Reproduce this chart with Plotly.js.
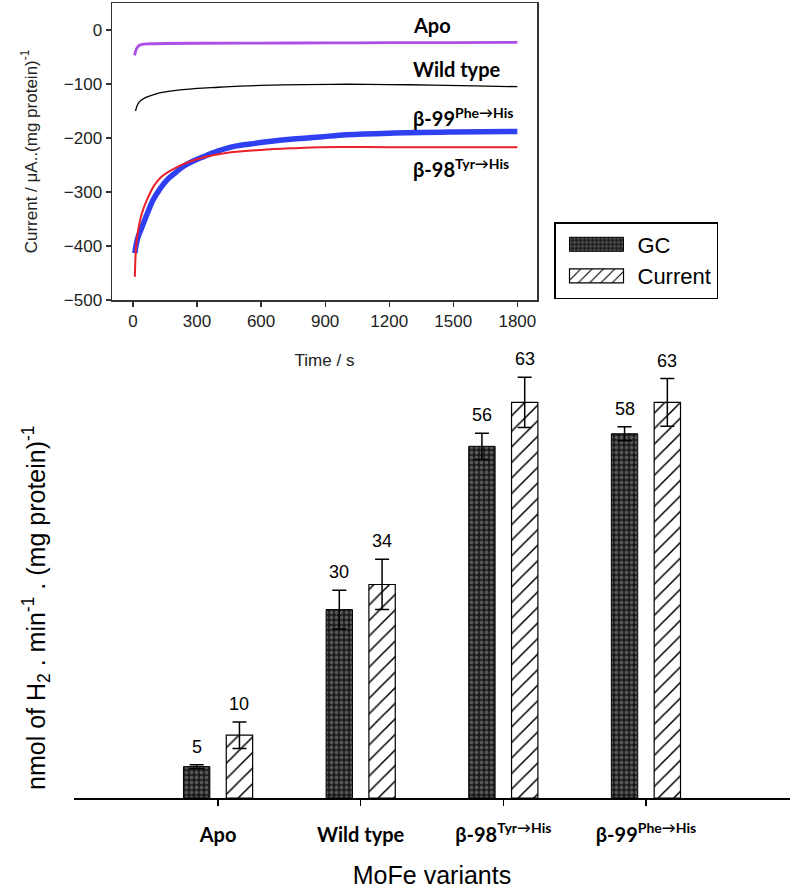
<!DOCTYPE html>
<html>
<head>
<meta charset="utf-8">
<script src="https://cdn.plot.ly/plotly-3.0.1.min.js"></script>
<style>html,body{margin:0;padding:0;background:#fff;}#chart{width:793px;height:892px;}</style>
</head>
<body>
<div id="chart"></div>
<script>
// ---------- Bar chart data ----------
const categories = ['Apo', 'Wild type', 'β-98 Tyr→His', 'β-99 Phe→His'];
const categoryLabels = ['Apo', 'Wild type', 'β-98<sup>Tyr→His</sup>', 'β-99<sup>Phe→His</sup>'];
const gcValues = [5, 30, 56, 58];
const gcErrors = [0.3, 3.1, 2.1, 1.1];
const currentValues = [10, 34, 63, 63];
const currentErrors = [2.1, 4.0, 4.0, 3.8];

// ---------- Inset (current vs time) data ----------
const apoTime = [8, 12, 18, 25, 35, 50, 80, 150, 300, 600, 900, 1200, 1500, 1800];
const apoCurrent = [-47, -40, -34, -30, -27.5, -26, -25.5, -25, -24.5, -24.2, -24, -23.5, -23.3, -23];

const wtTime = [12, 20, 30, 50, 80, 120, 160, 220, 300, 400, 500, 650, 800, 1000, 1200, 1400, 1600, 1800];
const wtCurrent = [-150, -140, -133, -127, -122, -117, -114, -111, -108, -106, -104, -102, -101, -100.5, -101, -102, -103.5, -105];

const b99Time = [9, 15, 25, 35, 47, 70, 94, 125, 159, 200, 234, 280, 328, 400, 469, 550, 628, 750, 877, 1000, 1200, 1500, 1800];
const b99Current = [-413, -398, -382, -372, -360, -337, -315, -295, -278, -264, -253, -243, -235, -224, -216, -211, -207, -202, -198, -194, -191, -189, -188];

const b98Time = [9, 11, 14, 18, 24, 35, 50, 65, 85, 103, 130, 182, 250, 328, 400, 469, 600, 750, 877, 1200, 1500, 1800];
const b98Current = [-457, -430, -405, -388, -372, -350, -330, -315, -298, -286, -273, -259, -246, -236, -230, -226, -222, -219, -217, -217, -217, -217];

const insetLabels = ['Apo', 'Wild type', 'β-99<sup>Phe→His</sup>', 'β-98<sup>Tyr→His</sup>'];
const insetLabelY = [9, -72, -161, -256];
const insetLabelX = 1300;

const ARIAL = 'Liberation Sans, Arial, sans-serif';
const BOLDF = 'Lato, Open Sans, sans-serif';

const traces = [
  {
    type: 'bar', name: 'GC', x: categories, y: gcValues,
    xaxis: 'x', yaxis: 'y',
    marker: {
      color: '#1c1c1c',
      line: {color: '#000', width: 1},
      pattern: {shape: '.', fgcolor: '#555555', bgcolor: '#1a1a1a', size: 5, solidity: 0.45, fillmode: 'replace'}
    },
    error_y: {type: 'data', array: gcErrors, visible: true, color: '#000', thickness: 1.5, width: 7}
  },
  {
    type: 'bar', name: 'Current', x: categories, y: currentValues,
    xaxis: 'x', yaxis: 'y',
    marker: {
      color: '#000',
      line: {color: '#000', width: 1.2},
      pattern: {shape: '/', fgcolor: '#000', bgcolor: '#fff', size: 11, solidity: 0.14, fillmode: 'replace'}
    },
    error_y: {type: 'data', array: currentErrors, visible: true, color: '#000', thickness: 1.5, width: 7}
  },
  {type: 'scatter', mode: 'lines', x: apoTime, y: apoCurrent, xaxis: 'x2', yaxis: 'y2', showlegend: false,
   line: {color: '#ad4ee6', width: 2.8, shape: 'spline'}},
  {type: 'scatter', mode: 'lines', x: wtTime, y: wtCurrent, xaxis: 'x2', yaxis: 'y2', showlegend: false,
   line: {color: '#000', width: 1.3, shape: 'spline'}},
  {type: 'scatter', mode: 'lines', x: b99Time, y: b99Current, xaxis: 'x2', yaxis: 'y2', showlegend: false,
   line: {color: '#2f3ff2', width: 5.5, shape: 'spline'}},
  {type: 'scatter', mode: 'lines', x: b98Time, y: b98Current, xaxis: 'x2', yaxis: 'y2', showlegend: false,
   line: {color: '#ea1f2a', width: 2, shape: 'spline'}}
];

const W = 793, H = 892;
const px = v => v / W;
const py = v => 1 - v / H;

const annotations = [];
// value labels above the error bars
categories.forEach((c, i) => {
  annotations.push({xref: 'x', yref: 'y', x: i - 0.15, y: gcValues[i] + gcErrors[i], text: String(gcValues[i]),
    showarrow: false, yanchor: 'bottom', yshift: 6, font: {family: ARIAL, size: 18, color: '#000'}});
  annotations.push({xref: 'x', yref: 'y', x: i + 0.15, y: currentValues[i] + currentErrors[i], text: String(currentValues[i]),
    showarrow: false, yanchor: 'bottom', yshift: 6, font: {family: ARIAL, size: 18, color: '#000'}});
});
// inset curve labels
insetLabels.forEach((t, i) => {
  annotations.push({xref: 'x2', yref: 'y2', x: insetLabelX, y: insetLabelY[i], text: t, showarrow: false,
    xanchor: 'left', yanchor: 'middle', font: {family: BOLDF, size: 20, color: '#000', weight: 'bold'}});
});
// main y-axis title
annotations.push({xref: 'paper', yref: 'paper', x: px(36), y: py(608), text: 'nmol of H<sub>2</sub> . min<sup>-1</sup> . (mg protein)<sup>-1</sup>',
  textangle: -90, showarrow: false, xanchor: 'center', yanchor: 'middle', font: {family: ARIAL, size: 25, color: '#000'}});

const layout = {
  width: W, height: H,
  margin: {l: 0, r: 0, t: 0, b: 0, pad: 0},
  paper_bgcolor: '#fff', plot_bgcolor: 'rgba(0,0,0,0)',
  barmode: 'group', bargap: 0.40, bargroupgap: 0.384,
  showlegend: true,
  legend: {
    x: px(554), y: py(222), xanchor: 'left', yanchor: 'top',
    bgcolor: '#fff', bordercolor: '#000', borderwidth: 1.5,
    font: {family: ARIAL, size: 22, color: '#000'},
    itemwidth: 72, tracegroupgap: 0
  },
  xaxis: {
    domain: [px(74), px(790)], anchor: 'y', type: 'category',
    range: [-1.01, 4.01], tickvals: categories, ticktext: categoryLabels,
    showline: true, linecolor: '#000', linewidth: 1.5,
    ticks: 'outside', ticklen: 6, tickwidth: 1.5, tickcolor: '#000',
    ticklabelstandoff: 12,
    tickfont: {family: BOLDF, size: 20, color: '#000', weight: 'bold'},
    title: {text: 'MoFe variants', font: {family: ARIAL, size: 25, color: '#000'}, standoff: 22},
    showgrid: false, zeroline: false, fixedrange: true
  },
  yaxis: {
    domain: [py(798), py(340)], anchor: 'x', range: [0, 72.93],
    visible: false, showgrid: false, zeroline: false, fixedrange: true
  },
  xaxis2: {
    domain: [px(112), px(537)], anchor: 'y2', range: [-98, 1892],
    tickvals: [0, 300, 600, 900, 1200, 1500, 1800],
    showline: true, mirror: true, linecolor: '#333', linewidth: 1.5,
    ticks: 'outside', ticklen: 5, tickwidth: 1.2, tickcolor: '#333',
    tickfont: {family: ARIAL, size: 17, color: '#222'},
    title: {text: 'Time / s', font: {family: ARIAL, size: 17, color: '#222'}, standoff: 24},
    showgrid: false, zeroline: false, fixedrange: true
  },
  yaxis2: {
    domain: [py(300), py(3)], anchor: 'x2', range: [-500, 50],
    tickvals: [0, -100, -200, -300, -400, -500],
    showline: true, mirror: true, linecolor: '#333', linewidth: 1.5,
    ticks: 'outside', ticklen: 5, tickwidth: 1.2, tickcolor: '#333',
    tickfont: {family: ARIAL, size: 17, color: '#222'},
    title: {text: 'Current / μA..(mg protein)<sup>-1</sup>', font: {family: ARIAL, size: 17, color: '#222'}, standoff: 22},
    showgrid: false, zeroline: false, fixedrange: true
  },
  annotations: annotations
};

Plotly.newPlot('chart', traces, layout, {staticPlot: true, displayModeBar: false}).then(gd => {
  // widen the legend swatches to the wide keys used in the reference
  gd.querySelectorAll('.legend .legendpoints path').forEach(p => {
    p.setAttribute('d', 'M27,7H-27V-7H27Z');
  });
});
</script>
</body>
</html>
